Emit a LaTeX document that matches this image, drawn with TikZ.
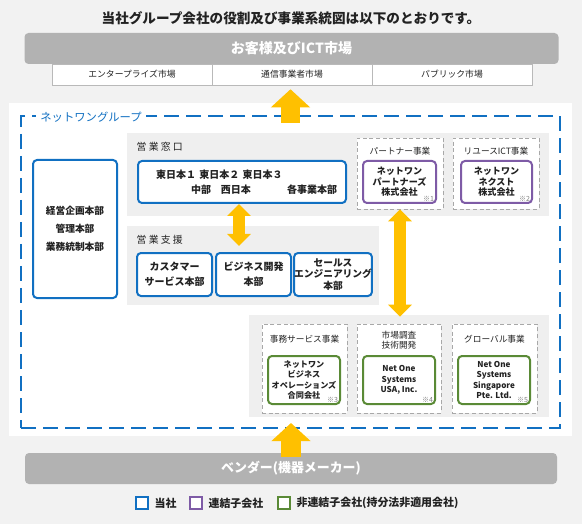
\documentclass[tikz,border=0pt]{standalone}
\usepackage{fontspec}
\setmainfont{Noto Sans CJK JP}
\usepackage{xcolor}
\usetikzlibrary{arrows.meta, positioning}

\definecolor{pagegray}{HTML}{F2F2F2}
\definecolor{bannergray}{HTML}{B2B2B2}
\definecolor{panelgray}{HTML}{EFEFEF}
\definecolor{linegray}{HTML}{A8A8A8}
\definecolor{ntblue}{HTML}{1170C2}
\definecolor{ntpurple}{HTML}{7E5BA6}
\definecolor{ntgreen}{HTML}{5A8A36}
\definecolor{ntyellow}{HTML}{FFC000}
\definecolor{inkgray}{HTML}{222222}

\begin{document}
\begin{tikzpicture}[x=0.75pt, y=-0.75pt,
  banner/.style={fill=bannergray, rounded corners=3pt, text=white, font=\fontsize{10.5}{12}\selectfont\bfseries},
  market/.style={draw=linegray!80, fill=white, minimum width=120pt, minimum height=15.75pt, text=inkgray, font=\fontsize{6.6}{7.5}\selectfont},
  panel/.style={fill=panelgray},
  box/.style={draw=ntblue, line width=1.5pt, rounded corners=3pt, fill=white, align=center, inner sep=0pt, text=inkgray, font=\fontsize{7.5}{11.25}\selectfont\bfseries},
  bizbox/.style={draw=linegray, dashed, dash pattern=on 3pt off 2pt, fill=white, minimum height=66.75pt},
  subbox/.style={box, draw=ntpurple, minimum width=54pt, minimum height=31.5pt, font=\fontsize{6.8}{8}\selectfont\bfseries},
  affbox/.style={box, draw=ntgreen, minimum width=54pt, minimum height=36pt, font=\fontsize{6.1}{7.9}\selectfont\bfseries},
  tag/.style={align=center, text=inkgray, font=\fontsize{6.5}{7.6}\selectfont},
  head/.style={anchor=west, text=inkgray, font=\fontsize{7.4}{9}\selectfont},
  note/.style={anchor=south east, inner xsep=2pt, inner ysep=1.5pt, text=gray, font=\fontsize{5.3}{6}\selectfont},
  legsq/.style={draw=#1, line width=1.5pt, fill=white, minimum size=9pt, inner sep=0pt},
  legtext/.style={text=inkgray, inner sep=1pt, font=\fontsize{8.2}{9}\selectfont\bfseries},
  fatarrow/.style={-{Triangle[length=13.5pt, width=28.5pt]}, line width=14.5pt, draw=ntyellow, fill=ntyellow},
  dblarrow/.style={{Triangle[length=9pt, width=17.25pt]}-{Triangle[length=9pt, width=17.25pt]}, line width=9.5pt, draw=ntyellow, fill=ntyellow}
]
  \fill[pagegray] (0,0) rectangle (582,524);
  \useasboundingbox (0,0) rectangle (582,524);

  \node[text=inkgray, font=\fontsize{10.2}{12}\selectfont\bfseries] (title) at (291,18) {当社グループ会社の役割及び事業系統図は以下のとおりです。};
  \node[banner, minimum width=400.5pt, minimum height=23.25pt] (customers) at (291.5,48.5) {お客様及びICT市場};
  \node[market] (ent) at (132,74.5) {エンタープライズ市場};
  \node[market] (tele) at (292,74.5) {通信事業者市場};
  \node[market] (pub) at (452,74.5) {パブリック市場};

  \node[fill=white, minimum width=422.25pt, minimum height=249.75pt] (whitepanel) at (290.5,269.5) {};
  \node[draw=ntblue, line width=1.5pt, dash pattern=on 11.25pt off 5.25pt, minimum width=404.25pt, minimum height=234pt] (group) at (290.5,272) {};
  \node[fill=white, inner xsep=3pt, inner ysep=1pt, text=ntblue, font=\fontsize{8.5}{10}\selectfont] (grouplabel) at (91,117.5) {ネットワングループ};

  \node[panel, minimum width=316.5pt, minimum height=62.25pt] (salespanel) at (338,174.5) {};
  \node[head] (saleshead) at (132,147) {営 業 窓 口};
  \node[box, minimum width=156pt, minimum height=31.5pt, text width=142.5pt, align=left, inner xsep=6.75pt] (east) at (242,182)
    {\hspace*{6.75pt}東日本１ 東日本２ 東日本３\\\hspace*{33pt}中部\quad 西日本\hfill 各事業本部};

  \node[bizbox, minimum width=64.5pt, minimum height=53.25pt] (partnerbiz) at (400,173.5) {};
  \node[tag] (partnertag) at (400,151) {パートナー事業};
  \node[subbox, minimum width=54.75pt] (partner) at (399.5,182) {ネットワン\\パートナーズ\\株式会社};
  \node[note] at (partner.south east) {※1};

  \node[bizbox, minimum width=64.5pt, minimum height=53.25pt] (reusebiz) at (496,173.5) {};
  \node[tag] (reusetag) at (496,151) {リユースICT事業};
  \node[subbox, minimum width=53.25pt] (next) at (496.5,182) {ネットワン\\ネクスト\\株式会社};
  \node[note] at (next.south east) {※2};

  \node[panel, minimum width=189pt, minimum height=59.25pt] (supportpanel) at (253,265.5) {};
  \node[head] (supporthead) at (132,240) {営 業 支 援};
  \node[box, minimum width=56.25pt, minimum height=32.25pt] (cs) at (174.5,274.5) {カスタマー\\サービス本部};
  \node[box, minimum width=56.25pt, minimum height=32.25pt] (bizdev) at (253.5,274.5) {ビジネス開発\\本部};
  \node[box, minimum width=57pt, minimum height=32.25pt, font=\fontsize{7.3}{8.7}\selectfont\bfseries] (se) at (333,274.5) {セールス\\エンジニアリング\\本部};

  \node[box, minimum width=63pt, minimum height=103.5pt, font=\fontsize{7.3}{13.5}\selectfont\bfseries] (hq) at (75,229) {経営企画本部\\管理本部\\業務統制本部};

  \node[panel, minimum width=225pt, minimum height=76.5pt] (lowpanel) at (399,366) {};
  \node[bizbox, minimum width=63.75pt] (opsbiz) at (304.5,368.5) {};
  \node[tag] (opstag) at (304.5,339) {事務サービス事業};
  \node[affbox] (ops) at (304,380) {ネットワン\\ビジネス\\オペレーションズ\\合同会社};
  \node[note] at (ops.south east) {※3};

  \node[bizbox, minimum width=63pt] (rdbiz) at (399,368.5) {};
  \node[tag] (rdtag) at (399,340) {市場調査\\技術開発};
  \node[affbox] (usa) at (399,380) {Net One\\Systems\\USA, Inc.};
  \node[note] at (usa.south east) {※4};

  \node[bizbox, minimum width=63.75pt] (globalbiz) at (494.5,368.5) {};
  \node[tag] (globaltag) at (494.5,339) {グローバル事業};
  \node[affbox] (sg) at (494,380) {Net One\\Systems\\Singapore\\Pte. Ltd.};
  \node[note] at (sg.south east) {※5};

  \node[banner, minimum width=399pt, minimum height=23.25pt, font=\fontsize{9.7}{11}\selectfont\bfseries] (vendor) at (291,468.5) {ベンダー(機器メーカー)};

  \draw[fatarrow, shorten <=-6pt, shorten >=3pt] (group.north) -- (group.north |- tele.south);
  \draw[fatarrow, shorten <=-3pt, shorten >=-4.5pt] (vendor.north) -- (vendor.north |- group.south);
  \draw[dblarrow, shorten >=4.5pt] ([xshift=-2.25pt]east.south) -- ([xshift=-2.25pt]east.south |- bizdev.north);
  \draw[dblarrow, shorten >=-1.5pt] (partnerbiz.south) -- (partnerbiz.south |- lowpanel.north);

  \node[legsq=ntblue] (legblue) at (142,503) {};
  \node[legtext, right=3pt of legblue] (legbluetext) {当社};
  \node[legsq=ntpurple] (legpurple) at (196,503) {};
  \node[legtext, right=3pt of legpurple] (legpurpletext) {連結子会社};
  \node[legsq=ntgreen] (leggreen) at (284,503) {};
  \node[legtext, right=3pt of leggreen] (leggreentext) {非連結子会社(持分法非適用会社)};
\end{tikzpicture}
\end{document}
